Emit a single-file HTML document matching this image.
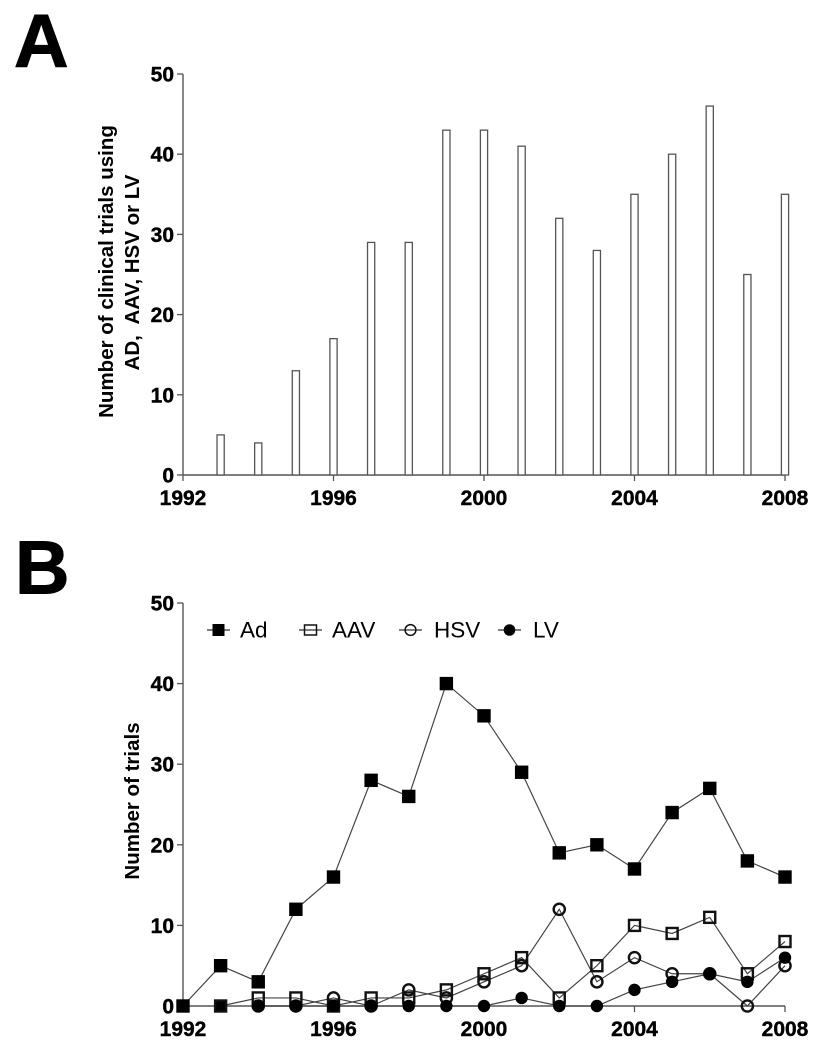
<!DOCTYPE html>
<html>
<head>
<meta charset="utf-8">
<style>
html,body{margin:0;padding:0;background:#fff;width:834px;height:1050px;overflow:hidden}
svg{display:block}
text{font-family:"Liberation Sans",Arial,sans-serif;fill:#000}
.tick{font-size:21px;font-weight:bold;stroke:#000;stroke-width:.4px}
.ttl{font-size:20.5px;font-weight:bold}
.leg{font-size:22.5px}
.panel{font-size:75.5px;font-weight:bold;stroke:#000;stroke-width:1px}
</style>
</head>
<body>
<svg id="chart" xmlns="http://www.w3.org/2000/svg" width="834" height="1050" viewBox="0 0 834 1050">
<text class="panel" x="14" y="66.5">A</text>
<text class="panel" x="15" y="593.5">B</text>
<g id="a"></g>
<g id="b"></g>
</svg>
<script>
const years = [1992,1993,1994,1995,1996,1997,1998,1999,2000,2001,2002,2003,2004,2005,2006,2007,2008];
const totalTrials = [0,5,4,13,17,29,29,43,43,41,32,28,35,40,46,25,35];
const adTrials = [0,5,3,12,16,28,26,40,36,29,19,20,17,24,27,18,16];
const aavTrials = [null,0,1,1,0,1,1,2,4,6,1,5,10,9,11,4,8];
const hsvTrials = [null,null,0,0,1,0,2,1,3,5,12,3,6,4,4,0,5];
const lvTrials = [null,null,0,0,0,0,0,0,0,1,0,0,2,3,4,3,6];
const xTickLabels = [1992,1996,2000,2004,2008];
const yTickLabels = [0,10,20,30,40,50];
const legendLabels = ['Ad','AAV','HSV','LV'];

const NS = 'http://www.w3.org/2000/svg';
function mk(parent, tag, attrs, txt) {
  const e = document.createElementNS(NS, tag);
  for (const k in attrs) e.setAttribute(k, attrs[k]);
  if (txt !== undefined) e.textContent = txt;
  parent.appendChild(e);
  return e;
}
const xScale = y => 183 + (y - 1992) * (785 - 183) / 16;
const yA = v => 475 - v * 8.02;
const yB = v => 1006 - v * 8.06;
const AXIS = '#555';

function axes(g, yS) {
  const axisY = mk(g, 'line', {x1:183, x2:183, y1:yS(50), y2:yS(0), stroke:AXIS, 'stroke-width':1.4});
  
  
  const axisX = mk(g, 'line', {x1:183, x2:785, y1:yS(0), y2:yS(0), stroke:AXIS, 'stroke-width':1.4});
  
  
  yTickLabels.forEach(v => {
    mk(g, 'line', {x1:177, x2:183, y1:yS(v), y2:yS(v), stroke:AXIS, 'stroke-width':1.3});
    const t = mk(g, 'text', {class:'tick', x:174, y:yS(v) + 7.5, 'text-anchor':'end'}, v);
    
    
  });
  xTickLabels.forEach(v => {
    mk(g, 'line', {x1:xScale(v), x2:xScale(v), y1:yS(0), y2:yS(0) + 6, stroke:AXIS, 'stroke-width':1.3});
    const t = mk(g, 'text', {class:'tick', x:xScale(v), y:yS(0) + 30, 'text-anchor':'middle'}, v);
    
    
  });
}

function marker(g, kind, x, y, isZero) {
  if (kind === 'Ad') return mk(g, 'rect', {x:x-6.7, y:y-6.7, width:13.4, height:13.4, fill:'#000'});
  if (kind === 'AAV') return mk(g, 'rect', {x:x-5.5, y:y-5.5, width:11, height:11, fill:isZero ? '#000' : 'none', stroke:'#111', 'stroke-width':2.4});
  if (kind === 'HSV') return mk(g, 'circle', {cx:x, cy:y, r:5.6, fill:'none', stroke:'#111', 'stroke-width':2.4});
  return mk(g, 'circle', {cx:x, cy:y, r:6.2, fill:'#000'});
}

function legendMarker(g, kind, x, y) {
  if (kind === 'Ad') return mk(g, 'rect', {x:x-6, y:y-6, width:12, height:12, fill:'#000'});
  if (kind === 'AAV') return mk(g, 'rect', {x:x-6, y:y-5, width:12, height:10, fill:'none', stroke:'#111', 'stroke-width':1.5});
  if (kind === 'HSV') return mk(g, 'circle', {cx:x, cy:y, r:5.4, fill:'none', stroke:'#111', 'stroke-width':1.5});
  return mk(g, 'circle', {cx:x, cy:y, r:5.8, fill:'#000'});
}

/* Panel A */
const gA = document.getElementById('a');
axes(gA, yA);
totalTrials.forEach((v, i) => {
  if (!v) return;
  const bar = mk(gA, 'rect', {x:xScale(years[i]) - 3.6, y:yA(v), width:7.2, height:yA(0) - yA(v), fill:'#fff', stroke:'#555', 'stroke-width':1.3});
  
  
});
const titleA1 = mk(gA, 'text', {class:'ttl', transform:'translate(113,271.5) rotate(-90)', 'text-anchor':'middle'}, 'Number of clinical trials using');


const titleA2 = mk(gA, 'text', {class:'ttl', transform:'translate(139,272.5) rotate(-90)', 'text-anchor':'middle'}, 'AD,  AAV, HSV or LV');
titleA2.setAttribute('style', 'white-space:pre');



/* Panel B */
const gB = document.getElementById('b');
axes(gB, yB);
const titleB = mk(gB, 'text', {class:'ttl', transform:'translate(139,801) rotate(-90)', 'text-anchor':'middle'}, 'Number of trials');



const seriesList = [['Ad', adTrials], ['AAV', aavTrials], ['HSV', hsvTrials], ['LV', lvTrials]];
seriesList.forEach(([name, vals]) => {
  const pts = [];
  vals.forEach((v, i) => { if (v !== null) pts.push(xScale(years[i]) + ',' + yB(v)); });
  const line = mk(gB, 'polyline', {points:pts.join(' '), fill:'none', stroke:'#444', 'stroke-width':1.2});
  
  
});
seriesList.forEach(([name, vals]) => {
  vals.forEach((v, i) => {
    if (v === null) return;
    const m = marker(gB, name, xScale(years[i]), yB(v), v === 0);
    
    
  });
});

/* Legend */
const legendX = [207, 299, 399, 498];
const legendTextX = [240, 332, 434, 533];
legendLabels.forEach((name, i) => {
  const lg = mk(gB, 'g', {});
  
  
  mk(lg, 'line', {x1:legendX[i], x2:legendX[i] + 23, y1:630, y2:630, stroke:'#333', 'stroke-width':1.2});
  legendMarker(lg, name, legendX[i] + 11.5, 630);
  mk(lg, 'text', {class:'leg', x:legendTextX[i], y:637.5}, name);
});
</script>
</body>
</html>
